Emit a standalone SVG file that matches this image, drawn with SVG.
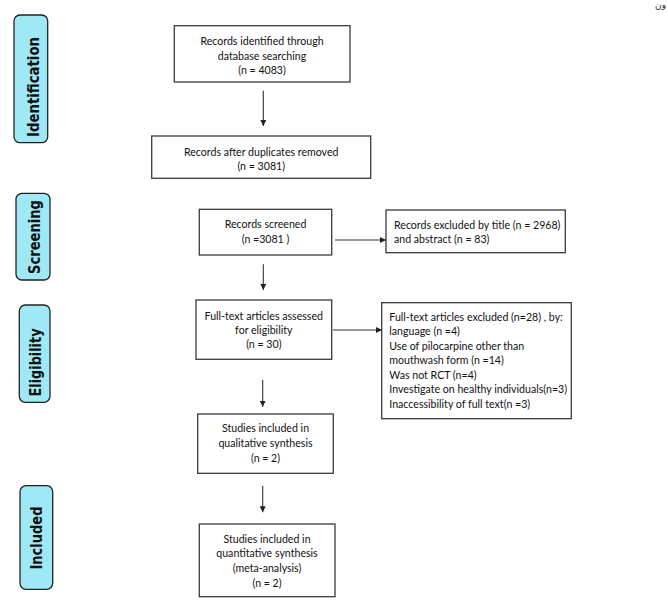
<svg xmlns="http://www.w3.org/2000/svg" width="668" height="602" viewBox="0 0 668 602">
<style>
.box{fill:#fff;stroke:#3a3a3a;stroke-width:1.3}
.lab{fill:#9fe9f7;stroke:#222;stroke-width:1.3}
.t{font-family:Lato,"Liberation Sans",sans-serif;font-size:10.6px;fill:#111}
.c{text-anchor:middle}
.lt{font-family:"DejaVu Sans",sans-serif;font-weight:bold;font-size:15px;fill:#111;text-anchor:middle}
.ln{stroke:#333;stroke-width:1.1;fill:none}
</style>
<defs>
<marker id="ah" viewBox="0 0 6 6" refX="6" refY="3" markerWidth="6" markerHeight="6" markerUnits="userSpaceOnUse" orient="auto">
<path d="M0,0 L6,3 L0,6 z" fill="#222"/>
</marker>
</defs>
<text x="666" y="8" font-family="'DejaVu Sans',sans-serif" font-size="9" text-anchor="end" fill="#222">ون</text>
<g id="stage-identification">
<rect class="lab" x="14" y="15" width="33.7" height="127.7" rx="6"/>
<text class="lt" transform="translate(39.3,87) rotate(-90)" textLength="100" lengthAdjust="spacingAndGlyphs">Identification</text>
</g>
<g id="stage-screening">
<rect class="lab" x="16" y="193.3" width="34" height="86.7" rx="6"/>
<text class="lt" transform="translate(39.5,237) rotate(-90)" textLength="74" lengthAdjust="spacingAndGlyphs">Screening</text>
</g>
<g id="stage-eligibility">
<rect class="lab" x="19.3" y="305" width="30.7" height="97.3" rx="6"/>
<text class="lt" transform="translate(40.5,362.5) rotate(-90)" textLength="68" lengthAdjust="spacingAndGlyphs">Eligibility</text>
</g>
<g id="stage-included">
<rect class="lab" x="20" y="485.7" width="32.7" height="103.6" rx="6"/>
<text class="lt" transform="translate(41.5,538) rotate(-90)" textLength="63" lengthAdjust="spacingAndGlyphs">Included</text>
</g>
<g id="identified">
<rect class="box" x="174.3" y="25.7" width="175.7" height="56.3"/>
<text class="t c" x="262" y="45.3">Records identified through</text>
<text class="t c" x="262" y="59.8">database searching</text>
<text class="t c" x="262" y="74.3">(n = 4083)</text>
</g>
<g id="deduplicated">
<rect class="box" x="151.7" y="136" width="219" height="42.3"/>
<text class="t c" x="261.2" y="155.5">Records after duplicates removed</text>
<text class="t c" x="261.2" y="169.5">(n = 3081)</text>
</g>
<g id="screened">
<rect class="box" x="199.3" y="209.3" width="132.4" height="45.7"/>
<text class="t c" x="265.5" y="228">Records screened</text>
<text class="t c" x="265.5" y="243">(n =3081 )</text>
</g>
<g id="excluded-title">
<rect class="box" x="386" y="210" width="179.3" height="42.7"/>
<text class="t" x="394" y="228.8">Records excluded  by title (n = 2968)</text>
<text class="t" x="394" y="242.8">and abstract (n = 83)</text>
</g>
<g id="fulltext">
<rect class="box" x="196" y="300" width="135.7" height="59.3"/>
<text class="t c" x="263.8" y="319.5">Full-text articles assessed</text>
<text class="t c" x="263.8" y="333.5">for eligibility</text>
<text class="t c" x="263.8" y="348">(n = 30)</text>
</g>
<g id="excluded-fulltext">
<rect class="box" x="381.7" y="302.7" width="189.6" height="116"/>
<text class="t" x="389.3" y="320.5">Full-text articles excluded (n=28) , by:</text>
<text class="t" x="389.3" y="335.3">language (n =4)</text>
<text class="t" x="389.3" y="349.8">Use of pilocarpine other than</text>
<text class="t" x="389.3" y="364.4">mouthwash form (n =14)</text>
<text class="t" x="389.3" y="378.9">Was not RCT (n=4)</text>
<text class="t" x="389.3" y="393.3">Investigate on healthy individuals(n=3)</text>
<text class="t" x="389.3" y="408">Inaccessibility of full text(n =3)</text>
</g>
<g id="qualitative">
<rect class="box" x="197.7" y="414" width="135.6" height="59.3"/>
<text class="t c" x="265.5" y="432">Studies included in</text>
<text class="t c" x="265.5" y="447">qualitative synthesis</text>
<text class="t c" x="265.5" y="462">(n = 2)</text>
</g>
<g id="quantitative">
<rect class="box" x="199.3" y="524" width="135.7" height="72.7"/>
<text class="t c" x="267" y="542.5">Studies included in</text>
<text class="t c" x="267" y="557">quantitative synthesis</text>
<text class="t c" x="267" y="572">(meta-analysis)</text>
<text class="t c" x="267" y="586.5">(n = 2)</text>
</g>
<g id="connectors">
<line class="ln" x1="263.3" y1="90.7" x2="263.3" y2="126" marker-end="url(#ah)"/>
<line class="ln" x1="263.3" y1="264.3" x2="263.3" y2="290" marker-end="url(#ah)"/>
<line class="ln" x1="335" y1="240" x2="386" y2="240" marker-end="url(#ah)"/>
<line class="ln" x1="333" y1="330" x2="382" y2="330" marker-end="url(#ah)"/>
<line class="ln" x1="262.7" y1="380" x2="262.7" y2="406.7" marker-end="url(#ah)"/>
<line class="ln" x1="262.7" y1="485.7" x2="262.7" y2="512.3" marker-end="url(#ah)"/>
</g>
</svg>
